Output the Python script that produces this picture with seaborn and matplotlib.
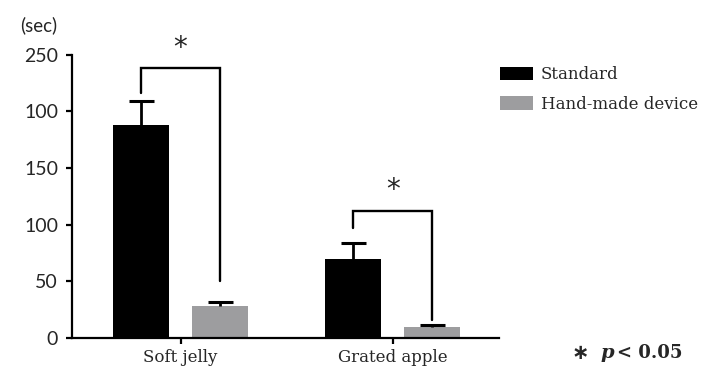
import pandas as pd
import numpy as np
import matplotlib
matplotlib.use("Agg")
import matplotlib.pyplot as plt
import seaborn as sns

# data
foods = ["Soft jelly", "Grated apple"]
devices = ["Standard", "Hand-made device"]
standard_time = [188, 70]
handmade_time = [28, 10]
standard_err = [21, 14]
handmade_err = [4, 1]

# significance brackets (sec): top, left leg end, right leg end, star height
bracket_top = [238, 112]
bracket_left_end = [216, 97]
bracket_right_end = [50, 16]
star_y = [256, 131]

ytick_vals = [0, 50, 100, 150, 200, 250]
ytick_labels = ["0", "50", "100", "150", "100", "250"]  # as printed in the original

df = pd.DataFrame({
    "food": foods * 2,
    "device": [devices[0]] * 2 + [devices[1]] * 2,
    "time": standard_time + handmade_time,
})

sns.set_style("white")
plt.rcParams["font.family"] = ["DejaVu Serif"]

fig = plt.figure(figsize=(7.12, 3.73), dpi=100)
ax = fig.add_axes([0.101, 0.094, 0.600, 0.759])

sns.barplot(data=df, x="food", y="time", hue="device", order=foods,
            hue_order=devices, palette=["#000000", "#9d9d9f"],
            width=0.746, gap=0.295, errorbar=None, linewidth=0, ax=ax)

# one-sided error bars on top of the bars
centers = []
for cont, err in zip(ax.containers, [standard_err, handmade_err]):
    xs = [b.get_x() + b.get_width() / 2 for b in cont]
    hs = [b.get_height() for b in cont]
    centers.append(xs)
    _, caps, _ = ax.errorbar(xs, hs, yerr=[np.zeros(len(err)), err], fmt="none",
                             ecolor="black", elinewidth=2, capsize=9,
                             capthick=2.2, zorder=3)
    caps[0].set_visible(False)  # hide the lower cap

# significance brackets
for i in range(len(foods)):
    xl, xr = centers[0][i], centers[1][i]
    ax.plot([xl, xl, xr, xr],
            [bracket_left_end[i], bracket_top[i], bracket_top[i], bracket_right_end[i]],
            color="black", lw=1.7, solid_joinstyle="miter", clip_on=False)
    ax.text(i, star_y[i], "*", ha="center", va="center", fontsize=20,
            family="DejaVu Sans", clip_on=False)

ax.set_ylim(0, 250)
ax.set_xlim(-0.512, 1.502)
ax.set_yticks(ytick_vals)
ax.set_yticklabels(ytick_labels, family="Lato", fontsize=14)
ax.set_xticks(range(len(foods)))
ax.set_xticklabels(foods, fontsize=12)
ax.set_xlabel("")
ax.set_ylabel("")
for s in ["top", "right"]:
    ax.spines[s].set_visible(False)
for s in ["left", "bottom"]:
    ax.spines[s].set_color("black")
    ax.spines[s].set_linewidth(1.6)
ax.tick_params(axis="both", direction="out", length=4, width=1.6, color="black",
               left=True, bottom=True, pad=4)
ax.tick_params(axis="y", pad=6)

fig.text(57 / 712, 1 - 25 / 373, "(sec)", ha="right", va="center",
         family="Lato", fontsize=13.5)

handles, labels = ax.get_legend_handles_labels()
ax.get_legend().remove()
fig.legend(handles, labels, loc="upper left", bbox_to_anchor=(0.693, 0.84),
           frameon=False, fontsize=12, handlelength=2.0, handleheight=0.85,
           handletextpad=0.45, labelspacing=0.75, borderaxespad=0)

fig.text(0.803, 1 - 353 / 373, "\u2217", ha="left", va="center",
         fontsize=15, fontweight="bold", family="DejaVu Sans")
fig.text(0.843, 1 - 353 / 373, "p", ha="left", va="center", fontsize=14,
         fontweight="bold", style="italic")
fig.text(0.866, 1 - 353 / 373, "< 0.05", ha="left", va="center",
         fontsize=13, fontweight="bold")

fig.savefig("out.png", dpi=100)
